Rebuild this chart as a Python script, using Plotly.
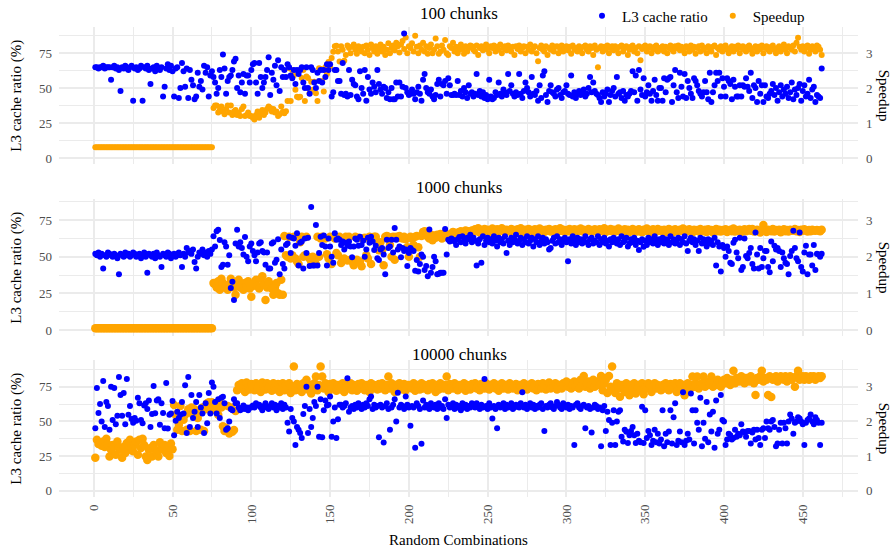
import plotly.graph_objects as go

# ---------------- data ----------------
panel_titles = ["100 chunks", "1000 chunks", "10000 chunks"]
x_tick_vals = [0, 50, 100, 150, 200, 250, 300, 350, 400, 450]

# ---- 100 chunks ----
l3_100 = [
    65,65,64,65,65,66,64,65,65,65, 56,65,66,64,65,63,48,65,64,66,
    64,63,65,66,41,64,65,63,64,66, 41,65,64,66,63,53,64,65,62,66,
    64,63,65,44,51,64,67,63,66,62, 44,64,65,43,50,68,62,51,64,43,
    63,56,52,42,44,61,51,55,49,66, 61,65,44,59,62,
    58,54,46,50,63,58,74,64,46,55, 58,59,63,69,71,50,59,47,54,60,
    46,59,59,54,63,67,68,54,46,68, 58,50,54,58,63,72,45,61,56,66,
    52,70,48,
    65,58,63,58,67,65,59,57,63,53, 63,60,63,65,54,50,65,50,46,65,
    63,54,50,61,55,63,54,63,58,67,63,67,
    44,47,63,63,55,55,46,68,45,46, 44,63,45,56,53,52,44,42,62,50,
    46,63,41,58,49,46,54,51,47,63, 53,49,46,51,50,43,47,42,50,42,
    42,54,44,54,44,51,89,50,47,45, 46,49,46,42,47,51,46,41,56,60,
    50,47,46,49,44,42,45,53,56,44, 53,52,55,46,57,52,45,45,46,45,
    55,45,48,44,50,47,43,52,46,
    47,44,46,60,45,48,44,47,43,45, 42,56,44,42,43,47,45,54,46,44,
    49,47,45,60,48,52,46,44,47,45, 60,46,43,48,54,50,47,44,58,46,
    45,48,41,52,43,59,62,45,40,48, 52,47,46,44,49,50,45,43,47,48,
    52,46,45,59,44,47,43,46,48,45, 47,49,44,46,50,58,47,54,48,46,
    45,43,40,47,44,46,49,40,45,48, 50,44,58,46,47,43,48,41,45,44,
    46,48,62,47,59,41,63,49,45,57, 44,47,52,46,41,48,56,45,41,50,
    50,41,57,47,56,57,58,40,52,63, 47,43,61,51,44,60,43,55,50,46,
    43,57,55,52,48,46,44,47,55,47, 42,61,40,47,52,61,55,61,44,57,
    51,44,57,55,53,42,56,51,44,44, 52,44,52,51,57,51,48,61,43,52,
    50,40,55,46,52,40,52,44,43,46, 48,53,45,50,41,47,52,44,49,46,
    51,43,47,54,42,49,45,50,53,41, 48,52,44,46,56,43,49,51,40,45,
    44,43,64,
]
speedup_100 = [0.31] * 75 + [
    1.43,1.5,1.5,1.3,1.37,1.47,1.33,1.25,1.4,1.5, 1.3,1.5,1.23,1.33,1.37,1.23,1.3,1.2,1.4,1.47,
    1.2,1.23,1.3,1.2,1.2,1.15,1.1,1.23,1.33,1.15, 1.27,1.37,1.23,1.3,1.4,1.47,1.43,1.33,1.4,1.3,
    1.33,1.2,1.25,
    1.47,1.32,1.28,1.34,1.63,2.57,1.63,2.52,2.37,1.95, 1.75,1.73,1.75,2.29,2.52,1.63,2.33,2.29,1.85,2.18,
    1.95,2.18,1.85,1.63,2.57,2.55,2.2,1.9,2.6,2.4,2.75,2.62,
    2.86,3.04,3.2,3.21,3.05,2.76,3.2,3.1,2.78,2.95, 3.22,3.15,3.0,3.18,3.25,3.1,2.98,3.2,3.12,3.05,
    3.18,3.0,3.22,3.1,2.95,3.25,3.15,3.05,3.2,2.98, 3.12,3.25,3.05,3.18,2.95,3.1,3.28,3.0,3.15,3.22,
    3.08,3.3,3.2,3.02,3.25,3.35,3.12,3.45,3.0,3.2, 3.15,3.28,3.05,3.5,3.18,3.0,3.22,3.1,3.3,3.05,
    3.2,2.98,3.15,3.25,3.0,3.1,3.42,3.2,2.98,3.05, 3.22,3.1,3.38,3.0,2.95,3.2,3.15,3.3,3.05,3.18,
    3.0,3.1,3.25,3.12,2.98,3.2,3.05,3.15,3.22,
    3.2,3.1,3.05,3.22,2.95,3.15,3.2,3.08,3.18,3.25, 3.1,3.0,3.2,3.15,3.22,3.05,3.18,3.1,3.25,3.0,
    3.15,3.2,3.08,3.22,3.1,3.05,3.18,2.95,3.2,3.12, 3.22,3.05,3.15,3.2,3.0,3.18,3.1,3.25,3.05,3.15,
    3.2,3.0,2.77,3.15,3.22,3.1,3.05,3.2,2.95,3.15, 3.1,3.22,3.05,3.18,3.2,3.0,3.12,3.22,3.05,3.15,
    3.2,3.08,3.18,2.98,3.22,3.1,3.15,3.05,3.2,3.12, 3.0,3.18,3.22,3.1,3.05,3.2,3.15,2.95,3.22,3.1,
    2.6,3.15,3.2,3.05,3.18,3.1,3.22,3.0,3.15,3.2, 3.08,3.2,3.12,3.0,3.18,3.22,3.05,3.15,3.2,2.95,
    3.1,3.18,3.22,3.05,3.15,3.0,3.2,2.8,3.12,3.18, 3.22,3.05,3.15,3.2,3.0,3.1,3.18,3.22,3.05,3.15,
    3.1,3.2,3.05,3.18,3.0,3.15,3.22,3.1,3.05,3.2, 3.15,3.22,3.08,3.18,3.1,3.0,3.2,3.15,3.05,3.22,
    3.1,3.18,2.98,3.15,3.2,3.05,3.22,3.1,3.15,3.0, 3.2,3.12,3.05,3.18,3.22,2.95,3.15,3.1,3.2,3.05,
    3.18,3.22,3.1,3.0,3.15,3.2,3.05,3.18,3.12,3.22, 3.0,3.15,3.2,3.1,3.05,3.18,3.22,3.1,2.98,3.15,
    3.2,3.05,3.18,3.12,3.22,3.0,3.15,3.2,3.1,3.05, 3.18,3.22,3.1,3.0,3.15,3.2,3.05,3.18,3.25,3.1,
    3.0,3.2,3.15,3.1,3.22,3.05,3.3,3.44,3.18,3.1, 3.2,3.05,3.15,3.22,2.98,3.1,3.2,3.15,3.05,3.22,
    3.18,3.1,2.95,
]

# ---- 1000 chunks ----
l3_1000 = [
    52,51,53,50,52,42,51,50,53,52, 51,50,52,51,49,38,52,51,50,53,
    51,52,50,51,53,52,50,51,52,49, 51,53,50,39,52,51,50,52,49,53,
    51,50,43,52,51,50,53,52,49,51, 52,50,51,53,51,43,52,50,56,53,
    54,52,55,46.5,42,50,53,52,55,51, 53,50,54,52,55,
    64,57,67.5,68.5,61.5,43,44.5,60,57,44.5, 51,28.6,33,20.5,59,68.5,57,60,56,51.5,
    63.5,50,47,57,59,54,51,47,53,59, 60,54,53,44.5,53,42,42,59,60,46,
    48,62,38,55,45,
    42,58,59,63.7,52.5,63,62.5,57.6,66,44, 59.6,60.5,42,62.5,52.5,63,43.7,84,44,44,
    71.7,44,52.5,63.7,58,64.6,57,44,62.5,57, 50,46,66,61.6,62.5,61.6,58,60.5,55,59.6,
    57.6,60.5,57,49.6,57,62.5,61.6,57.6,63.7,58, 61,50,55,63,59.6,63.7,60.5,54.6,57.6,49,
    47.8,55,56,51.6,38,61.6,56,57,61.6,53, 69.6,61.6,55,57,49.6,56,54,55,43.7,52.5,
    56,54.6,54,40.5,47.8,40,45,51.6,50,41, 43.7,36.7,68.6,39,43,50,47,38,38.4,39,
    39,39,69,51.6,61.6,60.5,62.5,61.6,60.5,58, 62,63.5,60,64,61,59,63,62,65,
    60,63,61,44,59,62,46,64,58,61, 63,60,62,59,64,61,57,63,60,62,
    59,64,52.5,61,58,63,60,62,65,59, 61,63,58,62,60,64,59,61,63,57,
    62,60,64,58,61,63,59,62,60,55, 56,61,63,59,64,60,62,58,61,63,
    60,47,62,59,64,61,58,63,60,62, 59,61,64,60,58,62,63,59,61,60,
    64,58,62,60,63,59,61,57,62,60, 63,61,59,62,58,64,60,61,63,57,
    59,62,60,63,58,61,54.7,60,62,56.8, 61,58,63,60,62,59,64,61,58,62,
    60,63,59,62,61,58,64,60,62,59, 61,63,58,62,60,64,59,54,61,63,
    60,62,58,61,54,63,59,62,60,57, 62,59,61,58,63,44,60,57,40,58,
    56,50,57,54,46,45,59.6,61.6,53,49, 63,41,43,62.5,50.5,49,52.5,56,45,42,
    66.5,51.5,42,56,43,49,54,54,43,39.5, 60.5,47,57.6,55,56,54,43,53,49,46,
    45,38,50.5,54,67.7,56,49,47,66.5,43, 40,53,57.6,38,51.6,51.6,44,58,41,52,
    51.6,50,52,
]
speedup_1000 = [0.05] * 75 + [
    1.28,1.25,1.16,1.33,1.1,1.4,1.28,1.16,1.2,1.1, 1.25,1.4,1.28,1.16,0.96,1.25,1.37,1.16,1.25,1.1,
    1.28,1.2,1.33,1.13,0.91,1.2,1.28,1.37,1.2,1.13, 1.4,1.47,1.25,0.82,1.16,1.33,1.25,1.13,0.96,1.16,
    1.28,1.0,0.96,1.37,0.96,
    2.57,2.04,2.0,2.55,1.95,2.04,2.55,1.95,1.87,1.8, 2.4,2.55,2.0,2.04,2.55,2.0,1.95,1.87,2.0,1.83,
    1.8,2.55,2.0,2.5,2.55,2.52,2.5,2.07,1.95,2.55, 1.8,2.55,2.5,2.1,2.04,2.55,1.83,1.92,1.95,2.55,
    1.9,2.55,1.92,1.87,1.77,2.55,1.92,2.52,1.87,1.74, 2.5,2.52,2.04,1.95,2.55,1.8,2.52,2.55,2.55,2.32,
    2.18,2.4,2.18,1.77,2.55,2.57,2.55,2.32,2.0,2.55, 1.92,2.55,2.52,2.57,2.52,2.5,2.55,2.48,2.26,2.0,
    2.55,2.5,2.32,2.55,2.57,2.26,2.0,2.57,2.68,2.7, 2.68,2.55,2.5,2.6,2.45,2.58,2.52,2.6,2.55,2.62,
    2.5,2.58,2.65,2.55,2.6,2.52,2.62,2.68,2.58,2.65, 2.6,2.68,2.7,2.62,2.65,2.72,2.68,2.7,2.66,
    2.72,2.68,2.75,2.7,2.78,2.66,2.73,2.7,2.76,2.69, 2.74,2.71,2.67,2.77,2.72,2.7,2.75,2.68,2.73,2.78,
    2.7,2.66,2.74,2.72,2.69,2.76,2.71,2.73,2.67,2.75, 2.72,2.78,2.7,2.68,2.74,2.71,2.76,2.69,2.73,2.7,
    2.75,2.67,2.72,2.77,2.7,2.73,2.68,2.74,2.71,2.76, 2.69,2.73,2.7,2.75,2.66,2.72,2.78,2.71,2.74,2.68,
    2.73,2.7,2.76,2.69,2.72,2.75,2.67,2.74,2.71,2.77, 2.7,2.74,2.68,2.72,2.76,2.71,2.73,2.69,2.75,2.72,
    2.67,2.75,2.72,2.7,2.78,2.68,2.73,2.71,2.76,2.7, 2.74,2.69,2.72,2.77,2.7,2.73,2.66,2.75,2.71,2.74,
    2.68,2.72,2.76,2.7,2.73,2.69,2.75,2.72,2.67,2.74, 2.71,2.77,2.7,2.73,2.68,2.75,2.72,2.69,2.76,2.71,
    2.73,2.7,2.74,2.67,2.72,2.76,2.7,2.73,2.68,2.75, 2.72,2.69,2.74,2.71,2.77,2.68,2.73,2.7,2.75,2.72,
    2.66,2.74,2.71,2.73,2.69,2.76,2.72,2.7,2.74,2.68, 2.75,2.71,2.73,2.67,2.72,2.76,2.7,2.74,2.69,2.73,
    2.71,2.75,2.68,2.72,2.74,2.7,2.77,2.69,2.73,2.71, 2.74,2.68,2.72,2.75,2.7,2.73,2.76,2.71,2.76,2.69,
    2.72,2.74,2.7,2.66,2.73,2.87,2.71,2.68,2.74,2.72, 2.7,2.76,2.69,2.73,2.71,2.74,2.67,2.72,2.75,2.7,
    2.73,2.69,2.74,2.71,2.72,2.76,2.7,2.73,2.68,2.74, 2.71,2.75,2.72,2.69,2.73,2.7,2.74,2.72,2.71,2.73,
    2.72,2.7,2.74,
]

# ---- 10000 chunks ----
l3_10000 = [
    45,74,56,62.5,50,79,46,64,61,44, 75,51,74,48,54,82,69,54,70.5,48,
    80.5,54.7,61,51.8,49,52.5,50.4,67,63,51, 48.6,61.5,63,59,65,46,55.4,75.5,55.8,65,
    66,47.5,63,56,45,77.7,44.8,54.7,55.7,64.6, 40,50.4,57,52.5,54.7,64,55.7,76,41.7,82,
    46,69,52.5,57,64,46,69,60,55.7,41.7, 63,48.6,70.5,55.7,78,75,64,55.7,66,52.5,
    67,67.7,63,44,45,50,59,58,66,63, 63,60,58,59,61.5,59,60,58,60,60,
    61.5,60,63,61.5,62,60,58,61,63,60,
    59,61,63,60,62,58,61,60,63,59, 62,60,49,42.7,59,52.5,50,33,46,44,
    41.7,38,55.4,61,75,41.7,59,46,52.5,64, 61,75,39,66,38.5,58,65,61.5,62,68,
    39,50,60,38,51.6,62,62,60,61,63, 81,57,60,61,59,62,60,63,61,59,
    62,60,63,61,66,68,59,62,60,61, 38.6,62,60,34.8,61,63,59,44,60,62,
    66,50,70.7,60,62,61,59,68,62,60, 46.8,61,60,31,63,61,59,33.8,65,60,
    62,60,59,63,61,60,62,59,63,60, 61,59,66,52.5,62,60,61,63,59,62,
    60,61,58,63,60,62,59,61,60,63,
    62,60,63,61,59,62,60,80.5,61,59, 63,60,52,61,59,45,62,60,61,63,
    59,62,60,61,63,59,60,62,61,60, 63,71,60,62,59,61,63,60,62,59,
    61,60,62,63,59,43,61,60,62,63, 60,59,61,64,62,60,59,63,61,60,
    62,59,61,60,33,62,63,60,59,61, 62,45,60,61,59,42,60,62,61,59,
    60,32,58,61,43,57,51,33,49,58, 33,50,57,58,39,35.5,44,42.6,34.5,40,
    43,46,40,34.5,41,36,35,60.6,34.5,58, 38,43,40,33,36,44,35,41,34,37,
    58,32,41,35,42.7,58,34,53,63,33, 36,42.7,35,71,33,36,41,37,70,58,
    34,58,49,44,67,32,49,37.4,64,35, 55,42.7,57,31,65,41,44,69,51,50,
    33,37,41,40,37,38,44,39,41,40, 48,42.7,42,39,43,43,34,42,44,37,
    44,38,33,44,45,38,50,45,44,50, 51,46,32,34,44,49,34,49,45,34,
    50,55,52,41,49,50,53,52,50,48, 33,49,51,52,55,50,48,53,51,49,
    33,49,
]
speedup_10000 = [
    0.95,1.47,1.35,1.4,1.3,1.42,1.26,1.5,1.33,0.99, 1.18,1.32,1.27,1.04,1.42,1.23,1.18,0.95,1.27,1.09,
    1.38,1.18,1.47,1.27,1.14,1.32,1.42,1.04,1.47,1.23, 1.5,1.32,0.99,0.89,1.18,1.23,0.99,1.32,1.18,1.09,
    0.99,1.4,1.23,1.18,1.32,1.09,1.25,1.0,1.36,1.2, 2.47,2.19,1.76,1.9,2.44,1.72,2.05,2.19,1.76,2.35,
    1.72,2.4,2.19,2.35,1.72,2.1,2.3,1.76,2.4,1.72, 2.35,2.52,2.55,2.35,2.55,2.35,2.52,2.3,2.19,2.52,
    2.4,1.86,1.72,1.81,2.44,1.65,2.4,1.7,1.75,2.3, 2.9,3.05,2.95,3.1,3.0,2.85,3.12,3.0,2.92,3.08,
    3.0,2.9,3.1,2.95,3.05,2.85,3.12,3.0,2.92,3.1, 2.95,3.05,2.88,3.1,3.0,2.92,3.08,2.85,3.02,3.1,
    2.9,3.05,2.95,3.1,2.82,3.0,3.58,2.9,3.08,2.95, 3.05,2.85,3.1,3.0,3.2,2.92,3.05,2.8,2.98,3.1,
    3.29,2.9,3.05,3.58,3.29,2.95,3.1,3.0,2.85,3.08, 2.95,3.1,3.02,2.88,3.05,3.0,2.92,3.1,2.85,3.05,
    3.0,2.95,3.1,2.9,3.05,3.0,2.88,3.08,2.95,3.1, 3.02,2.9,3.05,3.0,2.85,3.1,2.95,3.05,3.0,2.92,
    3.08,2.95,3.1,3.0,2.9,3.05,3.29,2.95,3.1,3.0, 2.85,3.05,2.95,3.1,3.0,2.92,3.08,2.9,3.05,3.05,
    3.0,2.95,3.1,2.88,3.05,3.0,2.92,3.1,2.95,3.05, 3.0,2.9,3.08,2.95,3.1,3.0,2.85,3.05,2.92,3.1,
    3.0,2.95,3.05,3.29,2.9,3.08,3.0,2.95,3.1,3.02, 2.9,3.05,3.0,2.95,3.1,2.88,3.05,3.0,2.92,3.08,
    3.0,3.1,2.95,3.05,2.9,3.08,3.0,2.95,3.1,3.02, 2.92,3.05,3.0,3.1,2.95,3.05,2.88,3.0,3.1,2.95,
    3.05,3.0,2.92,3.1,3.05,2.95,3.0,3.08,2.9,3.05, 3.0,2.95,3.1,3.02,2.92,3.05,3.0,3.1,2.95,3.05,
    2.9,3.08,3.0,2.95,3.1,3.05,2.92,3.0,3.12,2.95, 3.05,3.0,3.1,2.92,3.05,3.0,2.95,3.1,3.02,3.15,
    3.0,3.1,2.95,3.05,3.15,3.0,3.1,2.95,3.2,3.05, 3.31,3.0,3.1,3.15,2.95,3.05,3.2,3.0,3.1,3.15,
    3.05,3.31,2.9,3.1,3.2,2.82,3.31,3.0,3.58,2.9, 2.82,3.1,2.95,2.71,3.05,3.0,2.85,3.1,2.92,2.75,
    3.05,2.95,3.1,2.8,3.0,3.05,2.9,3.1,2.78,3.0, 2.95,3.1,3.05,2.85,3.0,3.1,2.95,3.05,3.0,2.9,
    3.05,2.95,3.1,3.0,2.9,3.08,3.0,2.95,3.1,2.85, 3.0,3.1,2.95,3.05,2.75,3.0,3.1,2.9,3.05,3.29,
    3.0,3.1,3.29,2.95,3.05,3.1,3.29,3.0,3.15,3.05, 3.1,3.29,3.0,3.15,3.05,3.2,3.1,3.0,3.15,3.2,
    3.1,3.25,3.15,3.05,3.2,3.46,3.1,3.25,3.2,3.15, 3.3,3.2,3.1,3.25,3.2,3.15,3.3,3.2,3.1,2.76,
    3.25,3.2,3.3,3.46,3.15,3.25,3.2,2.76,3.3,2.7, 3.2,3.25,3.3,3.15,3.2,3.3,3.25,3.2,3.3,3.15,
    3.25,3.3,3.2,3.25,3.0,3.3,3.46,3.2,3.25,3.3, 3.2,3.3,3.25,3.2,3.3,3.25,3.3,3.2,3.25,3.3,
    3.25,3.3,
]

l3_series = [l3_100, l3_1000, l3_10000]
speedup_series = [speedup_100, speedup_1000, speedup_10000]

# ---------------- styling / layout ----------------
W, H = 893, 554
ML, MR, MT, MB = 59, 35, 27, 57
PW, PH = W - ML - MR, H - MT - MB
FONT = "Liberation Serif, Times New Roman, serif"
BLUE, ORANGE = "#0000FF", "#FFA500"
GRID = "#EBEBEB"
SEC = 25.0  # secondary axis transform: ratio = 25 * speedup


def fy(py):
    return (H - MB - py) / PH


def fx(px):
    return (px - ML) / PW


# panel pixel extents (top, bottom) and left-axis ranges
panels_px = [(27.3, 164.2), (199.3, 336.2), (360.3, 497.0)]
left_ranges = [(-4.45, 93.5), (-4.25, 89.25), (-4.48, 94.0)]
blue_sizes = [6, 6, 6]
orange_sizes = [6, 8.5, 8.5]

n_max = max(len(s) for s in l3_series + speedup_series)
x_range = [1 - 0.05 * (n_max - 1), n_max + 0.05 * (n_max - 1)]

fig = go.Figure()
layout = dict(
    width=W, height=H,
    margin=dict(l=ML, r=MR, t=MT, b=MB, autoexpand=False),
    paper_bgcolor="white", plot_bgcolor="white",
    font=dict(family=FONT, size=13, color="#4D4D4D"),
    showlegend=True,
    legend=dict(orientation="h", x=fx(810), xanchor="right", y=fy(16), yanchor="middle",
                font=dict(family=FONT, size=15, color="black"), itemsizing="trace",
                itemwidth=30, bgcolor="rgba(0,0,0,0)", traceorder="normal"),
)

annotations = []
for i in range(3):
    xa = "x" if i == 0 else f"x{i + 1}"
    base_y_num = 2 * i + 1  # speedup (base, right side)
    over_y_num = 2 * i + 2  # ratio (overlay, left side)
    base_y = "y" if base_y_num == 1 else f"y{base_y_num}"
    over_y = f"y{over_y_num}"
    top, bot = panels_px[i]
    lo, hi = left_ranges[i]

    sp = speedup_series[i]
    l3 = l3_series[i]
    fig.add_trace(go.Scatter(
        x=list(range(1, len(sp) + 1)), y=sp, mode="markers", name="Speedup",
        marker=dict(color=ORANGE, size=orange_sizes[i], line=dict(width=0)),
        xaxis=xa, yaxis=base_y, showlegend=(i == 0), legendrank=2, legendgroup="s"))
    fig.add_trace(go.Scatter(
        x=list(range(1, len(l3) + 1)), y=l3, mode="markers", name="L3 cache ratio",
        marker=dict(color=BLUE, size=blue_sizes[i], line=dict(width=0)),
        xaxis=xa, yaxis=over_y, showlegend=(i == 0), legendrank=1, legendgroup="l"))

    xkey = "xaxis" if i == 0 else f"xaxis{i + 1}"
    layout[xkey] = dict(
        domain=[0, 1], anchor=base_y, range=x_range,
        tickmode="array", tickvals=x_tick_vals, ticktext=[str(v) for v in x_tick_vals],
        showticklabels=(i == 2), tickangle=-90, ticks="", ticklabelstandoff=4,
        showgrid=True, gridcolor=GRID, gridwidth=1.6, zeroline=False, showline=False,
        minor=dict(tickmode="linear", tick0=0, dtick=25, showgrid=True, gridcolor=GRID, gridwidth=0.8),
        tickfont=dict(family=FONT, size=13, color="#4D4D4D"),
    )
    if i > 0:
        layout[xkey]["matches"] = "x"
    bkey = "yaxis" if base_y_num == 1 else f"yaxis{base_y_num}"
    layout[bkey] = dict(
        domain=[fy(bot), fy(top)], anchor=xa, side="right",
        range=[lo / SEC, hi / SEC], tickmode="linear", tick0=0, dtick=1,
        ticks="", ticklabelstandoff=7, showgrid=True, gridcolor=GRID, gridwidth=1.6,
        zeroline=False, showline=False,
        minor=dict(tickmode="linear", tick0=0, dtick=0.5, showgrid=True, gridcolor=GRID, gridwidth=0.8),
        tickfont=dict(family=FONT, size=13, color="#4D4D4D"),
    )
    layout[f"yaxis{over_y_num}"] = dict(
        overlaying=base_y, anchor=xa, side="left", range=[lo, hi],
        tickmode="linear", tick0=0, dtick=25, ticks="", ticklabelstandoff=6,
        showgrid=False, zeroline=False, showline=False,
        tickfont=dict(family=FONT, size=13, color="#4D4D4D"),
    )

    mid = fy((top + bot) / 2)
    annotations.append(dict(text="L3 cache ratio (%)", xref="paper", yref="paper",
                            x=fx(17), y=mid, xanchor="center", yanchor="middle",
                            textangle=-90, showarrow=False,
                            font=dict(family=FONT, size=15, color="black")))
    annotations.append(dict(text="Speedup", xref="paper", yref="paper",
                            x=fx(884), y=mid, xanchor="center", yanchor="middle",
                            textangle=90, showarrow=False,
                            font=dict(family=FONT, size=15, color="black")))
    title_y = [13, 187, 354][i]
    annotations.append(dict(text=panel_titles[i], xref="paper", yref="paper",
                            x=fx(459), y=fy(title_y), xanchor="center", yanchor="middle",
                            showarrow=False, font=dict(family=FONT, size=17, color="black")))

annotations.append(dict(text="Random Combinations", xref="paper", yref="paper",
                        x=fx(458), y=fy(540), xanchor="center", yanchor="middle",
                        showarrow=False, font=dict(family=FONT, size=15, color="black")))
layout["annotations"] = annotations

fig.update_layout(**layout)
fig.write_html("out.html",
               config={"displayModeBar": False},
               post_script="document.body.style.margin='0px';document.body.style.padding='0px';")
